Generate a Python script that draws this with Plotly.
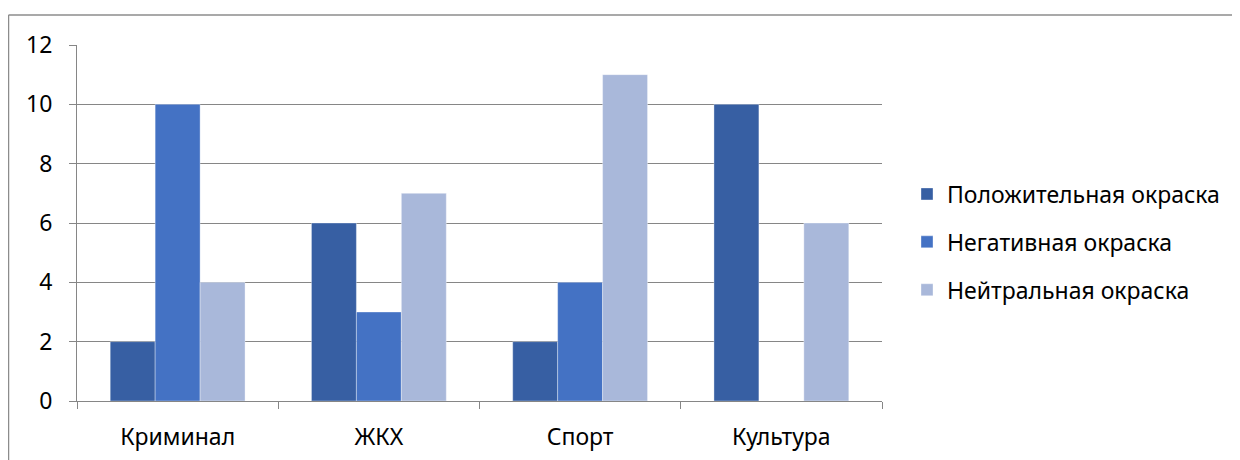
import plotly.graph_objects as go

categories = ["Криминал", "ЖКХ", "Спорт", "Культура"]
series_names = ["Положительная окраска", "Негативная окраска", "Нейтральная окраска"]
positive = [2, 6, 2, 10]
negative = [10, 3, 4, 0]
neutral = [4, 7, 11, 6]
colors = ["#375FA3", "#4472C4", "#A9B8DA"]

fig = go.Figure()
for i, (name, vals) in enumerate(zip(series_names, [positive, negative, neutral])):
    fig.add_trace(go.Bar(
        x=categories, y=vals, name=name, legendgroup=f"g{i}",
        marker=dict(color=colors[i], line=dict(color="rgba(255,255,255,0.35)", width=1)),
    ))

# page body has an 8px margin; work in figure coordinates
OFF = 8
W, H = 1240 - OFF, 460 - OFF
L, R, T, B = 77 - OFF, 882 - OFF, 45 - OFF, 401 - OFF
pw, ph = R - L, B - T

fig.update_layout(
    width=W, height=H,
    margin=dict(l=L, r=W - R, t=T, b=H - B, pad=0, autoexpand=False),
    paper_bgcolor="white", plot_bgcolor="white",
    font=dict(family="Noto Sans", size=23, color="#000000"),
    barmode="group", bargap=0.33, bargroupgap=0,
    legend=dict(x=(907 - 77) / pw, y=(401 - 242) / ph, xanchor="left", yanchor="middle",
                tracegroupgap=15, font=dict(size=23), bgcolor="rgba(0,0,0,0)"),
    showlegend=True,
)
fig.update_yaxes(range=[0, 12], dtick=2, showgrid=True, gridcolor="#868686", gridwidth=1,
                 showline=True, linecolor="#868686", linewidth=1,
                 ticks="outside", ticklen=7, tickcolor="#868686", automargin=False,
                 ticklabelstandoff=12, zeroline=False, fixedrange=True)
fig.update_xaxes(showline=True, linecolor="#868686", linewidth=1,
                 ticks="outside", ticklen=7, tickcolor="#868686", tickson="boundaries",
                 ticklabelstandoff=15, showgrid=False, fixedrange=True, automargin=False)

# chart-area border (Excel style), extending beyond the visible window
top_y = (B - (15 - OFF)) / ph
left_x = (0.5 - L) / pw
fig.add_shape(type="line", xref="paper", yref="paper",
              x0=left_x, x1=(W + 50 - L) / pw, y0=top_y, y1=top_y,
              line=dict(color="#8c8c8c", width=1.5))
fig.add_shape(type="line", xref="paper", yref="paper",
              x0=left_x, x1=left_x, y0=top_y, y1=(B - H - 50) / ph,
              line=dict(color="#8c8c8c", width=1.5))

fig.write_html("out.html")
